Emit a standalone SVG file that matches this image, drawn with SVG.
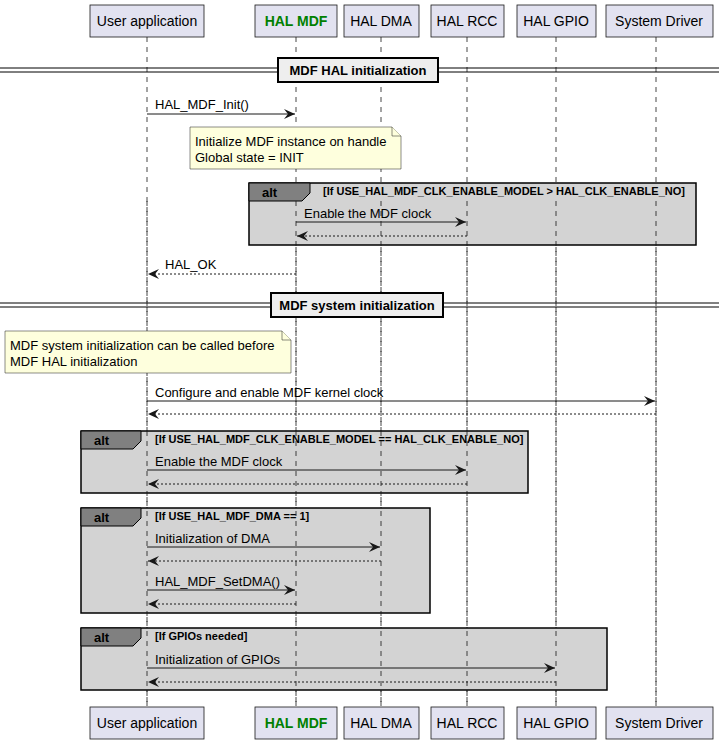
<svg xmlns="http://www.w3.org/2000/svg" width="719" height="743" viewBox="0 0 719 743">
<defs>
<marker id="ah" markerWidth="12" markerHeight="10" refX="11" refY="5" orient="auto" markerUnits="userSpaceOnUse"><path d="M0,0 L11,5 L0,10 L4,5 Z" fill="#181818"/></marker>
</defs>
<style>
text{font-family:"Liberation Sans",Arial,sans-serif;fill:#000}
.p rect{fill:#E2E2F0;stroke:#181818;stroke-width:0.8}
.p text{font-size:14px;text-anchor:middle}
.ll{stroke:#181818;stroke-width:0.8;stroke-dasharray:5,5}
.m{stroke:#181818;stroke-width:1;fill:none;marker-end:url(#ah)}
.r{stroke:#181818;stroke-width:1;fill:none;stroke-dasharray:2,2;marker-end:url(#ah)}
.ml{font-size:13px}
.alt{fill:#D3D3D3;stroke:#000;stroke-width:1.5}
.tab{fill:#808080;stroke:#000;stroke-width:1}
.at{font-size:13px;font-weight:bold}
.ac{font-size:11px;font-weight:bold}
.note{fill:#FEFFDD;stroke:#181818;stroke-width:0.5}
.div{stroke:#000;stroke-width:1}
.db{fill:#EEEEEE;stroke:#000;stroke-width:2}
.dt{font-size:13px;font-weight:bold;text-anchor:middle}
</style>
<g id="lifelines">
<line class="ll" x1="147" y1="37" x2="147" y2="707"/>
<line class="ll" x1="296" y1="37" x2="296" y2="707"/>
<line class="ll" x1="381" y1="37" x2="381" y2="707"/>
<line class="ll" x1="467" y1="37" x2="467" y2="707"/>
<line class="ll" x1="556" y1="37" x2="556" y2="707"/>
<line class="ll" x1="656" y1="37" x2="656" y2="707"/>
</g>
<g id="frames">
<rect class="alt" x="249" y="183" width="447" height="62"/>
<path class="tab" d="M249,183 H310 V193 L302,201 H249 Z"/>
<text class="at" x="262" y="197">alt</text>
<text class="ac" x="323" y="195">[If USE_HAL_MDF_CLK_ENABLE_MODEL &gt; HAL_CLK_ENABLE_NO]</text>

<rect class="alt" x="81" y="431" width="447" height="62"/>
<path class="tab" d="M81,431 H141 V441 L133,449 H81 Z"/>
<text class="at" x="94" y="445">alt</text>
<text class="ac" x="155" y="443">[If USE_HAL_MDF_CLK_ENABLE_MODEL == HAL_CLK_ENABLE_NO]</text>

<rect class="alt" x="81" y="508" width="349" height="105"/>
<path class="tab" d="M81,508 H141 V518 L133,526 H81 Z"/>
<text class="at" x="94" y="522">alt</text>
<text class="ac" x="155" y="520">[If USE_HAL_MDF_DMA == 1]</text>

<rect class="alt" x="81" y="628" width="526" height="62"/>
<path class="tab" d="M81,628 H141 V638 L133,646 H81 Z"/>
<text class="at" x="94" y="642">alt</text>
<text class="ac" x="155" y="640">[If GPIOs needed]</text>
</g>
<g id="lifelines-over">
<line class="ll" x1="147" y1="201" x2="147" y2="707"/>
<line class="ll" x1="296" y1="201" x2="296" y2="707"/>
<line class="ll" x1="381" y1="201" x2="381" y2="707"/>
<line class="ll" x1="467" y1="201" x2="467" y2="707"/>
<line class="ll" x1="556" y1="201" x2="556" y2="707"/>
<line class="ll" x1="656" y1="201" x2="656" y2="707"/>
</g>
<g id="dividers">
<line class="div" x1="0" y1="68" x2="719" y2="68"/><line class="div" x1="0" y1="72" x2="719" y2="72"/>
<rect class="db" x="278" y="58" width="160" height="24"/>
<text class="dt" x="358" y="75">MDF HAL initialization</text>
<line class="div" x1="0" y1="303" x2="719" y2="303"/><line class="div" x1="0" y1="307" x2="719" y2="307"/>
<rect class="db" x="271" y="293" width="172" height="24"/>
<text class="dt" x="357" y="310">MDF system initialization</text>
</g>
<g id="notes">
<path class="note" d="M190,127 H392 L401,136 V169 H190 Z"/><path class="note" d="M392,127 V136 H401" fill="none"/>
<text class="ml" x="195" y="146">Initialize MDF instance on handle</text>
<text class="ml" x="195" y="162">Global state = INIT</text>
<path class="note" d="M5,331 H282 L291,340 V373 H5 Z"/><path class="note" d="M282,331 V340 H291" fill="none"/>
<text class="ml" x="10" y="350">MDF system initialization can be called before</text>
<text class="ml" x="10" y="366">MDF HAL initialization</text>
</g>
<g id="connectors">
<line class="m" x1="147" y1="114" x2="295" y2="114"/><text class="ml" x="155" y="109">HAL_MDF_Init()</text>
<line class="m" x1="296" y1="222" x2="466" y2="222"/><text class="ml" x="304" y="218">Enable the MDF clock</text>
<line class="r" x1="467" y1="236" x2="297" y2="236"/>
<line class="r" x1="296" y1="274" x2="148" y2="274"/><text class="ml" x="165" y="269">HAL_OK</text>
<line class="m" x1="147" y1="401" x2="655" y2="401"/><text class="ml" x="155" y="397">Configure and enable MDF kernel clock</text>
<line class="r" x1="656" y1="414" x2="148" y2="414"/>
<line class="m" x1="147" y1="470" x2="466" y2="470"/><text class="ml" x="155" y="466">Enable the MDF clock</text>
<line class="r" x1="467" y1="484" x2="148" y2="484"/>
<line class="m" x1="147" y1="547" x2="380" y2="547"/><text class="ml" x="155" y="543">Initialization of DMA</text>
<line class="r" x1="381" y1="561" x2="148" y2="561"/>
<line class="m" x1="147" y1="590" x2="295" y2="590"/><text class="ml" x="155" y="586">HAL_MDF_SetDMA()</text>
<line class="r" x1="296" y1="604" x2="148" y2="604"/>
<line class="m" x1="147" y1="668" x2="555" y2="668"/><text class="ml" x="155" y="664">Initialization of GPIOs</text>
<line class="r" x1="556" y1="682" x2="148" y2="682"/>
</g>
<g id="p-user" class="p"><rect x="90" y="5" width="114" height="32"/><text x="147" y="26">User application</text><rect x="90" y="707" width="114" height="32"/><text x="147" y="728">User application</text></g>
<g id="p-mdf" class="p"><rect x="255" y="5" width="82" height="32"/><text x="296" y="26" style="fill:#008000;font-weight:bold">HAL MDF</text><rect x="255" y="707" width="82" height="32"/><text x="296" y="728" style="fill:#008000;font-weight:bold">HAL MDF</text></g>
<g id="p-dma" class="p"><rect x="344" y="5" width="75" height="32"/><text x="381" y="26">HAL DMA</text><rect x="344" y="707" width="75" height="32"/><text x="381" y="728">HAL DMA</text></g>
<g id="p-rcc" class="p"><rect x="431" y="5" width="73" height="32"/><text x="467" y="26">HAL RCC</text><rect x="431" y="707" width="73" height="32"/><text x="467" y="728">HAL RCC</text></g>
<g id="p-gpio" class="p"><rect x="517" y="5" width="79" height="32"/><text x="556" y="26">HAL GPIO</text><rect x="517" y="707" width="79" height="32"/><text x="556" y="728">HAL GPIO</text></g>
<g id="p-sys" class="p"><rect x="606" y="5" width="107" height="32"/><text x="659" y="26">System Driver</text><rect x="606" y="707" width="107" height="32"/><text x="659" y="728">System Driver</text></g>
</svg>
